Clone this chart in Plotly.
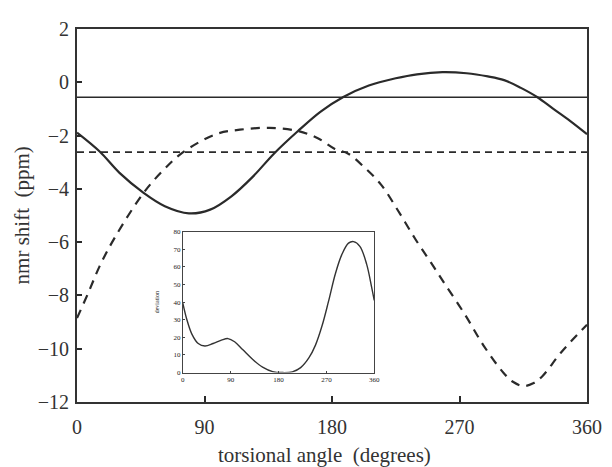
import plotly.graph_objects as go

# Main chart: solid curve (nmr shift vs torsional angle)
solid_angle = [0, 16, 30, 47, 62, 79, 94, 109, 124, 139, 156, 172, 188, 206, 225, 240, 258, 275, 290, 301.5, 313, 325, 336, 348, 360]
solid_shift = [-1.89, -2.6, -3.4, -4.15, -4.65, -4.92, -4.78, -4.28, -3.55, -2.68, -1.83, -1.1, -0.55, -0.12, 0.15, 0.3, 0.38, 0.34, 0.22, 0.08, -0.2, -0.56, -0.99, -1.45, -1.95]

# Main chart: dashed curve
dash_angle = [0, 8, 16, 27, 47, 60, 74, 98, 115, 136, 156, 170, 182, 191.5, 203, 214.6, 227, 239, 250, 260, 274, 287, 301, 308, 315, 322, 328.5, 342, 360]
dash_shift = [-8.85, -7.9, -6.9, -5.8, -4.15, -3.35, -2.66, -1.95, -1.78, -1.71, -1.83, -2.1, -2.5, -2.68, -3.2, -3.84, -4.85, -5.9, -6.78, -7.6, -8.73, -9.88, -10.9, -11.25, -11.4, -11.3, -11.03, -10.12, -9.1]

# Horizontal reference levels
solid_level = -0.56
dash_level = -2.62

# Inset: deviation vs torsional angle
inset_angle = [0, 7.4, 16.8, 29, 41.6, 57, 72.6, 85, 97.4, 113, 131.6, 150, 169, 187, 206, 221.6, 237, 249.5, 262, 274, 286.8, 299, 311.6, 321, 333, 345.7, 355, 360]
inset_dev = [39.5, 30.3, 22, 16.5, 15.1, 16.5, 18.4, 19.3, 17.5, 12.9, 7.4, 3.1, 0.55, 0, 0.4, 2.8, 8.3, 15.6, 26.7, 40.4, 56, 67, 73.5, 74.4, 71.7, 61.6, 48.7, 41]

main_ticks_x = [0, 90, 180, 270, 360]
main_ticks_y = [2, 0, -2, -4, -6, -8, -10, -12]
inset_ticks_x = [0, 90, 180, 270, 360]
inset_ticks_y = [0, 10, 20, 30, 40, 50, 60, 70, 80]

INK = "#2a2a2a"
FONT = "Liberation Serif"

fig = go.Figure()
fig.add_trace(go.Scatter(x=[0, 360], y=[solid_level, solid_level], mode="lines",
                         line=dict(color=INK, width=1.6), showlegend=False))
fig.add_trace(go.Scatter(x=[0, 360], y=[dash_level, dash_level], mode="lines",
                         line=dict(color=INK, width=1.6, dash="7px,5px"), showlegend=False))
fig.add_trace(go.Scatter(x=solid_angle, y=solid_shift, mode="lines", line_shape="spline",
                         line=dict(color=INK, width=2.2), showlegend=False))
fig.add_trace(go.Scatter(x=dash_angle, y=dash_shift, mode="lines", line_shape="spline",
                         line=dict(color=INK, width=2.2, dash="9px,7px"), showlegend=False))
fig.add_trace(go.Scatter(x=inset_angle, y=inset_dev, mode="lines", line_shape="spline",
                         line=dict(color="#333", width=1.4), xaxis="x2", yaxis="y2", showlegend=False))

# The page body has an 8px margin, so the figure is sized to fit the window from that offset.
fig.update_layout(
    width=604, height=459,
    margin=dict(l=69, r=18, t=10, b=65),
    paper_bgcolor="white", plot_bgcolor="white",
    font=dict(family=FONT, color=INK),
    xaxis=dict(range=[0, 360], tickvals=main_ticks_x, ticks="inside", ticklen=6, tickwidth=1.5,
               tickcolor=INK, showline=True, linecolor="#333", linewidth=1.8, mirror=True,
               showgrid=False, zeroline=False, tickfont=dict(size=20, family=FONT, color="#333"),
               ticklabelstandoff=6, domain=[0, 1]),
    yaxis=dict(range=[-12, 2], tickvals=main_ticks_y, ticks="inside", ticklen=5, tickwidth=1.5,
               tickcolor=INK, showline=True, linecolor="#333", linewidth=1.8, mirror=True,
               showgrid=False, zeroline=False, tickfont=dict(size=20, family=FONT, color="#333"),
               ticklabelstandoff=2, domain=[0, 1]),
    xaxis2=dict(range=[0, 360], tickvals=inset_ticks_x, ticks="inside", ticklen=2, tickwidth=1,
                tickcolor="#444", showline=True, linecolor="#444", linewidth=1, mirror=True,
                showgrid=False, zeroline=False, tickfont=dict(size=7, family=FONT, color="#222"),
                domain=[0.2075, 0.5828], anchor="y2"),
    yaxis2=dict(range=[0, 80], tickvals=inset_ticks_y, ticks="inside", ticklen=2, tickwidth=1,
                tickcolor="#444", showline=True, linecolor="#444", linewidth=1, mirror=True,
                showgrid=False, zeroline=False, tickfont=dict(size=7, family=FONT, color="#222"),
                domain=[0.0789, 0.4565], anchor="x2"),
    annotations=[
        dict(text="torsional angle  (degrees)", xref="paper", yref="paper", x=0.486, y=-0.141,
             showarrow=False, font=dict(size=21, family=FONT, color="#333"), xanchor="center", yanchor="middle"),
        dict(text="nmr shift  (ppm)", xref="paper", yref="paper", x=-0.108, y=0.5, textangle=-90,
             showarrow=False, font=dict(size=21, family=FONT, color="#333"), xanchor="center", yanchor="middle"),
        dict(text="deviation", xref="paper", yref="paper", x=0.156, y=0.266, textangle=-90,
             showarrow=False, font=dict(size=6, family=FONT, color="#222"), xanchor="center", yanchor="middle"),
    ],
)

fig.write_html("out.html")
